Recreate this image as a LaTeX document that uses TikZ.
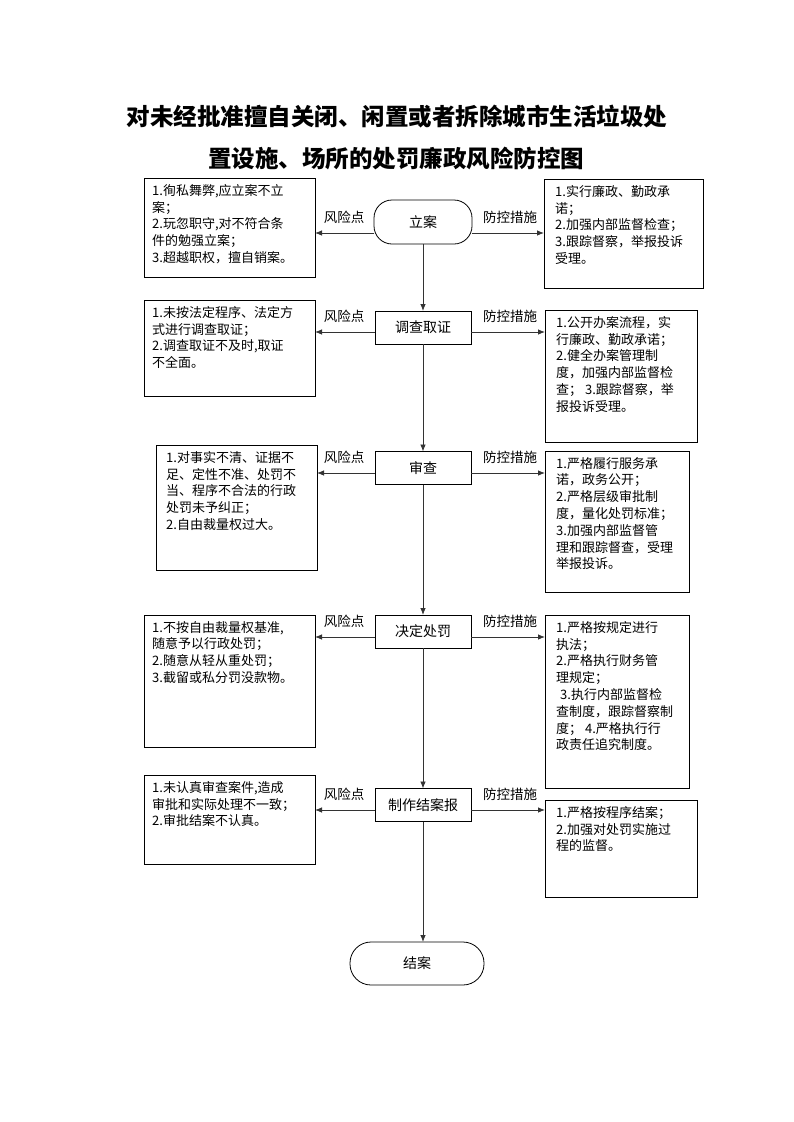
\documentclass[tikz,border=0pt]{standalone}
\usepackage{fontspec}
\setmainfont{Noto Sans CJK SC}
\usetikzlibrary{arrows.meta}
\begin{document}
\begin{tikzpicture}[x=1pt,y=-1pt,
  box/.style={draw, line width=0.8pt, anchor=north west, inner sep=0pt, outer sep=0pt},
  txt/.style={anchor=north west, align=left, inner sep=0pt, font=\fontsize{13}{16.8}\selectfont},
  proc/.style={draw, line width=0.8pt, minimum width=96pt, minimum height=33pt, inner sep=0pt, outer sep=0pt, font=\fontsize{14}{16}\selectfont},
  term/.style={proc, rounded corners=18pt},
  lab/.style={inner sep=0pt, font=\fontsize{13.5}{16}\selectfont},
  arr/.style={draw=black!80, line width=0.8pt, -{Latex[length=7pt,width=5.5pt]}},
  ttl/.style={inner sep=0pt, font=\fontsize{23.5}{28}\selectfont\bfseries}
]
\useasboundingbox (0,0) rectangle (793,1122);
\fill[white] (0,0) rectangle (793,1122);

% title
\node[ttl] (t1) at (397,117) {对未经批准擅自关闭、闲置或者拆除城市生活垃圾处};
\node[ttl] (t2) at (396,158) {置设施、场所的处罚廉政风险防控图};

% centre column
\node[term, minimum width=98pt, minimum height=44pt] (S) at (423,222) {立案};
\node[proc] (P1) at (423,327.5) {调查取证};
\node[proc] (P2) at (423,468) {审查};
\node[proc] (P3) at (423,631.5) {决定处罚};
\node[proc] (P4) at (423,805) {制作结案报};
\node[term, minimum width=134pt, minimum height=43pt, rounded corners=21pt] (E) at (417,963.5) {结案};

% left boxes
\node[box, minimum width=171pt, minimum height=99pt] (L1) at (144,178) {};
\node[txt] (L1t) at (152,184) {1.徇私舞弊,应立案不立\\案；\\2.玩忽职守,对不符合条\\件的勉强立案；\\3.超越职权，擅自销案。};
\node[box, minimum width=171pt, minimum height=96pt] (L2) at (144,300) {};
\node[txt] (L2t) at (152,306) {1.未按法定程序、法定方\\式进行调查取证；\\2.调查取证不及时,取证\\不全面。};
\node[box, minimum width=161pt, minimum height=125pt] (L3) at (156,445) {};
\node[txt] (L3t) at (166,451) {1.对事实不清、证据不\\足、定性不准、处罚不\\当、程序不合法的行政\\处罚未予纠正；\\2.自由裁量权过大。};
\node[box, minimum width=171pt, minimum height=132pt] (L4) at (144,615) {};
\node[txt] (L4t) at (152,621) {1.不按自由裁量权基准,\\随意予以行政处罚；\\2.随意从轻从重处罚；\\3.截留或私分罚没款物。};
\node[box, minimum width=171pt, minimum height=89pt] (L5) at (144,775) {};
\node[txt] (L5t) at (152,781) {1.未认真审查案件,造成\\审批和实际处理不一致；\\2.审批结案不认真。};

% right boxes
\node[box, minimum width=159pt, minimum height=109pt] (R1) at (544,179) {};
\node[txt] (R1t) at (555,185) {1.实行廉政、勤政承\\诺；\\2.加强内部监督检查；\\3.跟踪督察，举报投诉\\受理。};
\node[box, minimum width=152pt, minimum height=132pt] (R2) at (545,310) {};
\node[txt] (R2t) at (556,316) {1.公开办案流程，实\\行廉政、勤政承诺；\\2.健全办案管理制\\度，加强内部监督检\\查； 3.跟踪督察，举\\报投诉受理。};
\node[box, minimum width=144pt, minimum height=141pt] (R3) at (545,451) {};
\node[txt] (R3t) at (556,457) {1.严格履行服务承\\诺，政务公开；\\2.严格层级审批制\\度，量化处罚标准；\\3.加强内部监督管\\理和跟踪督查，受理\\举报投诉。};
\node[box, minimum width=144pt, minimum height=173pt] (R4) at (545,615) {};
\node[txt] (R4t) at (556,621) {1.严格按规定进行\\执法；\\2.严格执行财务管\\理规定；\\\hspace{4pt}3.执行内部监督检\\查制度，跟踪督察制\\度； 4.严格执行行\\政责任追究制度。};
\node[box, minimum width=152pt, minimum height=97pt] (R5) at (545,800) {};
\node[txt] (R5t) at (556,806) {1.严格按程序结案；\\2.加强对处罚实施过\\程的监督。};

% vertical connectors
\draw[arr] (S.south) -- (P1.north);
\draw[arr] (P1.south) -- (P2.north);
\draw[arr] (P2.south) -- (P3.north);
\draw[arr] (P3.south) -- (P4.north);
\draw[arr] (P4.south) -- (P4.south |- E.north);

% horizontal connectors and labels
\draw[arr] (S.west |- 0,233) -- (L1.east |- 0,233);
\draw[arr] (S.east |- 0,233) -- (R1.west |- 0,233);
\node[lab] (a1) at (344,217) {风险点};
\node[lab] (b1) at (510,217) {防控措施};

\draw[arr] (P1.west |- 0,332) -- (L2.east |- 0,332);
\draw[arr] (P1.east |- 0,332) -- (R2.west |- 0,332);
\node[lab] (a2) at (344,316) {风险点};
\node[lab] (b2) at (510,316) {防控措施};

\draw[arr] (P2.west |- 0,473) -- (L3.east |- 0,473);
\draw[arr] (P2.east |- 0,473) -- (R3.west |- 0,473);
\node[lab] (a3) at (344,457) {风险点};
\node[lab] (b3) at (510,457) {防控措施};

\draw[arr] (P3.west |- 0,637) -- (L4.east |- 0,637);
\draw[arr] (P3.east |- 0,637) -- (R4.west |- 0,637);
\node[lab] (a4) at (344,621) {风险点};
\node[lab] (b4) at (510,621) {防控措施};

\draw[arr] (P4.west |- 0,810) -- (L5.east |- 0,810);
\draw[arr] (P4.east |- 0,810) -- (R5.west |- 0,810);
\node[lab] (a5) at (344,794) {风险点};
\node[lab] (b5) at (510,794) {防控措施};
\end{tikzpicture}
\end{document}
